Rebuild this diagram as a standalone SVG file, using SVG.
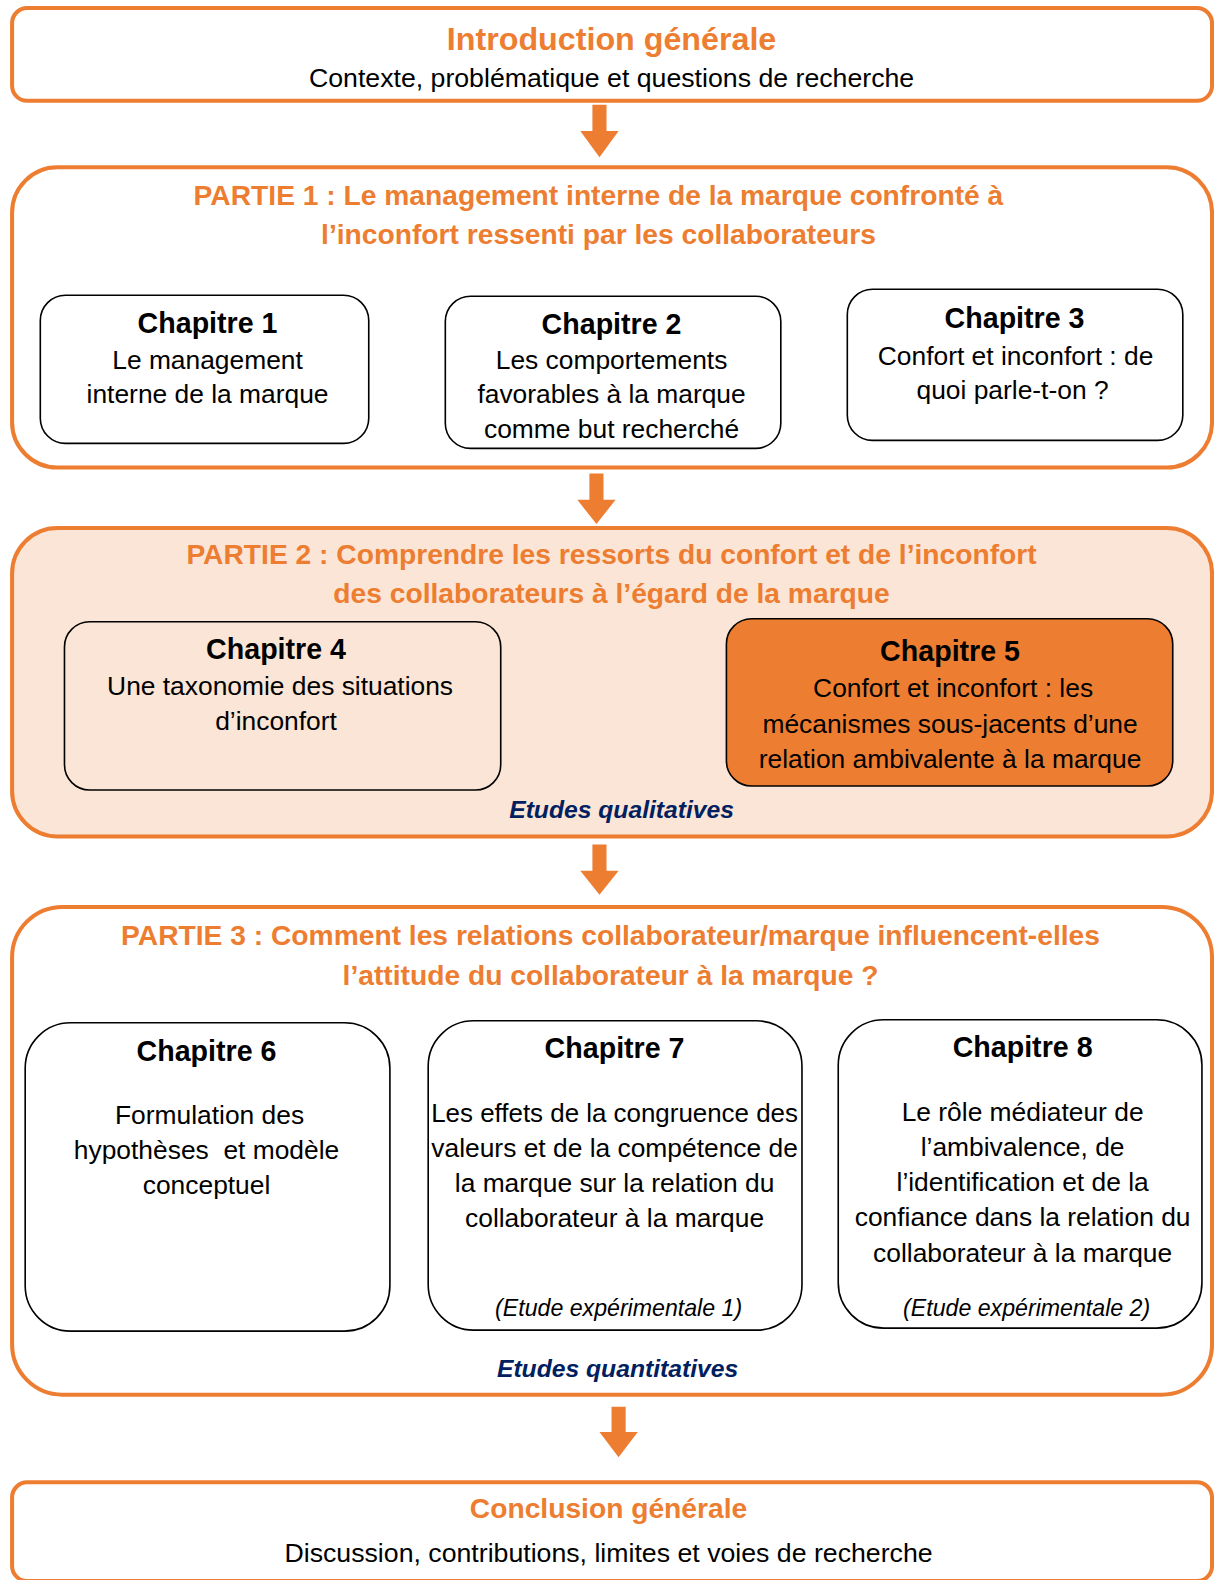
<svg xmlns="http://www.w3.org/2000/svg" width="1214" height="1580" viewBox="0 0 1214 1580">
<style>
text{font-family:"Liberation Sans",Arial,sans-serif;text-anchor:middle;fill:#000}
.big{stroke:#ED7D31;stroke-width:4;fill:#fff}
.ch{stroke:#000;stroke-width:1.6;fill:#fff}
.ttl{font-weight:bold;font-size:32px;fill:#ED7D31}
.pt{font-weight:bold;font-size:28px;fill:#ED7D31}
.sub{font-size:26.5px}
.cht{font-weight:bold;font-size:28.4px}
.body{font-size:26.2px}
.et{font-weight:bold;font-style:italic;font-size:24.5px;fill:#002060}
.exp{font-style:italic;font-size:23px}
.arr{fill:#ED7D31}
</style>
<g transform="scale(1.0075,1.0077)">
<g id="intro">
<rect class="big" x="12" y="8" width="1191" height="92" rx="15"/>
<text class="ttl" x="607" y="50">Introduction générale</text>
<text class="sub" x="607" y="86">Contexte, problématique et questions de recherche</text>
</g>
<g id="partie1">
<rect class="big" x="12" y="166" width="1191" height="298" rx="45"/>
<text class="pt" x="594" y="203">PARTIE 1 : Le management interne de la marque confronté à</text>
<text class="pt" x="594" y="242">l’inconfort ressenti par les collaborateurs</text>
</g>
<g id="ch1">
<rect class="ch" x="40" y="293" width="326" height="147" rx="25"/>
<text class="cht" x="206" y="330">Chapitre 1</text>
<text class="body" x="206" y="366">Le management</text>
<text class="body" x="206" y="400">interne de la marque</text>
</g>
<g id="ch2">
<rect class="ch" x="442" y="294" width="333" height="151" rx="25"/>
<text class="cht" x="607" y="331">Chapitre 2</text>
<text class="body" x="607" y="366">Les comportements</text>
<text class="body" x="607" y="400">favorables à la marque</text>
<text class="body" x="607" y="435">comme but recherché</text>
</g>
<g id="ch3">
<rect class="ch" x="841" y="287" width="333" height="150" rx="25"/>
<text class="cht" x="1007" y="325">Chapitre 3</text>
<text class="body" x="1008" y="362">Confort et inconfort : de</text>
<text class="body" x="1005" y="396">quoi parle-t-on ?</text>
</g>
<g id="partie2">
<rect class="big" style="fill:#FBE5D6" x="12" y="524" width="1191" height="306" rx="45"/>
<text class="pt" x="607" y="560">PARTIE 2 : Comprendre les ressorts du confort et de l’inconfort</text>
<text class="pt" x="607" y="598">des collaborateurs à l’égard de la marque</text>
<text class="et" x="617" y="812">Etudes qualitatives</text>
</g>
<g id="ch4">
<rect class="ch" style="fill:#FBE5D6" x="64" y="617" width="433" height="167" rx="25"/>
<text class="cht" x="274" y="654">Chapitre 4</text>
<text class="body" x="278" y="690">Une taxonomie des situations</text>
<text class="body" x="274" y="724">d’inconfort</text>
</g>
<g id="ch5">
<rect class="ch" style="fill:#ED7D31" x="721" y="614" width="443" height="166" rx="25"/>
<text class="cht" x="943" y="656">Chapitre 5</text>
<text class="body" x="946" y="692">Confort et inconfort : les</text>
<text class="body" x="943" y="727">mécanismes sous-jacents d’une</text>
<text class="body" x="943" y="762">relation ambivalente à la marque</text>
</g>
<g id="partie3">
<rect class="big" x="12" y="900" width="1191" height="484" rx="50"/>
<text class="pt" x="606" y="938">PARTIE 3 : Comment les relations collaborateur/marque influencent-elles</text>
<text class="pt" x="606" y="977">l’attitude du collaborateur à la marque ?</text>
<text class="et" x="613" y="1366">Etudes quantitatives</text>
</g>
<g id="ch6">
<rect class="ch" x="25" y="1015" width="362" height="306" rx="45"/>
<text class="cht" x="205" y="1053">Chapitre 6</text>
<text class="body" x="208" y="1115">Formulation des</text>
<text class="body" x="205" y="1150" xml:space="preserve">hypothèses  et modèle</text>
<text class="body" x="205" y="1185">conceptuel</text>
</g>
<g id="ch7">
<rect class="ch" x="425" y="1013" width="371" height="307" rx="45"/>
<text class="cht" x="610" y="1050">Chapitre 7</text>
<text class="body" x="610" y="1113" textLength="364" lengthAdjust="spacingAndGlyphs">Les effets de la congruence des</text>
<text class="body" x="610" y="1148">valeurs et de la compétence de</text>
<text class="body" x="610" y="1183">la marque sur la relation du</text>
<text class="body" x="610" y="1218">collaborateur à la marque</text>
<text class="exp" x="614" y="1306">(Etude expérimentale 1)</text>
</g>
<g id="ch8">
<rect class="ch" x="832" y="1012" width="361" height="306" rx="45"/>
<text class="cht" x="1015" y="1049">Chapitre 8</text>
<text class="body" x="1015" y="1112">Le rôle médiateur de</text>
<text class="body" x="1015" y="1147">l’ambivalence, de</text>
<text class="body" x="1015" y="1182">l’identification et de la</text>
<text class="body" x="1015" y="1217">confiance dans la relation du</text>
<text class="body" x="1015" y="1252">collaborateur à la marque</text>
<text class="exp" x="1019" y="1306">(Etude expérimentale 2)</text>
</g>
<g id="conclusion">
<rect class="big" x="12" y="1471" width="1191" height="98" rx="15"/>
<text class="ttl" style="font-size:28px" x="604" y="1506">Conclusion générale</text>
<text class="sub" x="604" y="1550">Discussion, contributions, limites et voies de recherche</text>
</g>
<g id="connectors">
<polygon class="arr" points="588,104 602,104 602,130 614,130 595,156 576,130 588,130"/>
<polygon class="arr" points="585,470 599,470 599,496 611,496 592,520 573,496 585,496"/>
<polygon class="arr" points="588,838 602,838 602,864 614,864 595,888 576,864 588,864"/>
<polygon class="arr" points="607,1396 621,1396 621,1421 633,1421 614,1446 595,1421 607,1421"/>
</g>
</g>
</svg>
